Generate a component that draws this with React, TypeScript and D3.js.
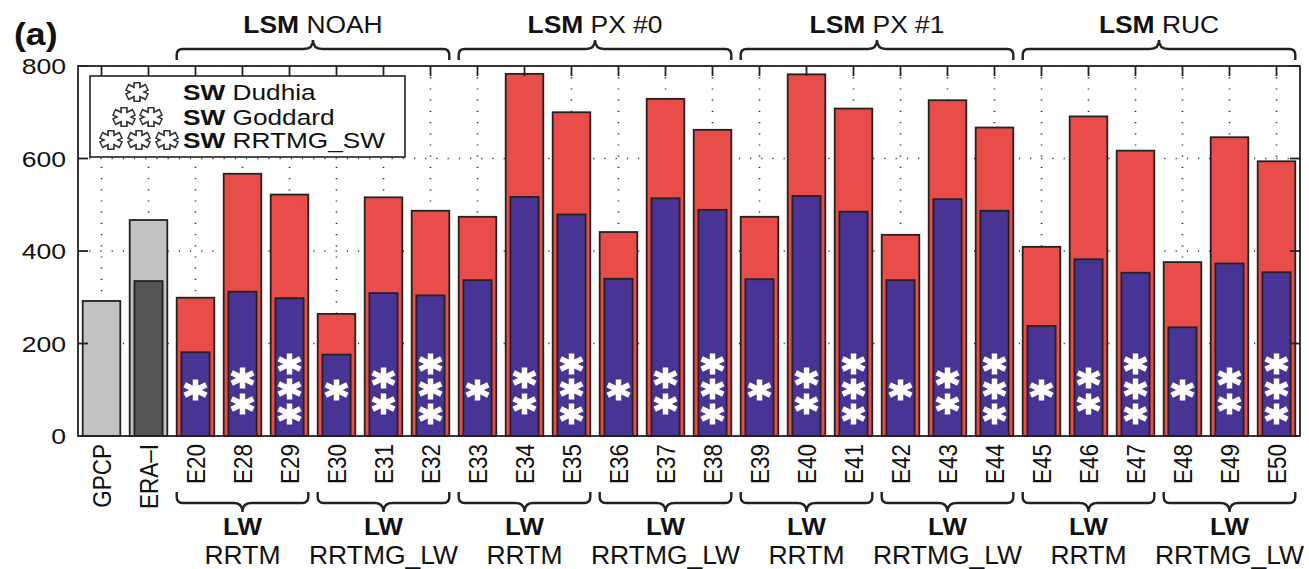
import React from 'react';
import * as d3 from 'd3';

const categories = ['GPCP', 'ERA–I', 'E20', 'E28', 'E29', 'E30', 'E31', 'E32', 'E33', 'E34', 'E35', 'E36', 'E37', 'E38',
  'E39', 'E40', 'E41', 'E42', 'E43', 'E44', 'E45', 'E46', 'E47', 'E48', 'E49', 'E50'];
// outer bar (total) and inner bar values
const outerValues = [292, 467, 299, 567, 522, 264, 516, 487, 474, 783, 700, 441, 729, 662, 474, 782, 708, 435, 726, 667, 409, 691, 617, 376, 646, 594];
const innerValues = [null, 335, 181, 312, 298, 176, 309, 304, 337, 517, 479, 340, 514, 489, 339, 519, 485, 337, 512, 487, 238, 382, 353, 235, 373, 354];
const swStars = [0, 0, 1, 2, 3, 1, 2, 3, 1, 2, 3, 1, 2, 3, 1, 2, 3, 1, 2, 3, 1, 2, 3, 1, 2, 3];
const lsmGroups = ['NOAH', 'PX #0', 'PX #1', 'RUC'];
const lwGroups = ['RRTM', 'RRTMG_LW', 'RRTM', 'RRTMG_LW', 'RRTM', 'RRTMG_LW', 'RRTM', 'RRTMG_LW'];
const swLegend = ['Dudhia', 'Goddard', 'RRTMG_SW'];
const yTicks = [0, 200, 400, 600, 800];

const W = 1309, H = 569;
const left = 78, right = 1300, top = 66, bottom = 436;
const RED = '#e84d4a', BLUE = '#493395', LIGHT = '#c2c2c2', DARK = '#555555', INK = '#222';
const FONT = '"Liberation Sans", Arial, Helvetica, sans-serif';

const x = d3.scaleBand<string>().domain(categories).range([left, right]).paddingInner(0.2).paddingOuter(0.1);
const y = d3.scaleLinear().domain([0, 800]).range([bottom, top]);

const starPath = (cx: number, cy: number, rx: number, ry: number) =>
  [90, 30, 150].map(a => {
    const dx = rx * Math.cos((a * Math.PI) / 180), dy = ry * Math.sin((a * Math.PI) / 180);
    return `M${cx - dx},${cy - dy}L${cx + dx},${cy + dy}`;
  }).join('');

// curly brace; dir = 1 tips below the line, -1 tips above
const bracePath = (x0: number, x1: number, yLine: number, dir: number) => {
  const t = 11 * dir, p = 9 * dir, r = 6, m = (x0 + x1) / 2;
  return `M${x0},${yLine + t} L${x0},${yLine + r * dir} Q${x0},${yLine} ${x0 + r},${yLine}` +
    ` L${m - 9},${yLine} Q${m},${yLine} ${m},${yLine - p}` +
    ` Q${m},${yLine} ${m + 9},${yLine} L${x1 - r},${yLine} Q${x1},${yLine} ${x1},${yLine + r * dir} L${x1},${yLine + t}`;
};

// horizontally stretched text (the reference is wider than it is tall)
const SText = ({ x: tx, y: ty, sx, children, ...rest }: any) => (
  <text transform={`translate(${tx},${ty}) scale(${sx},1)`} {...rest}>{children}</text>
);

export default function App() {
  const bw = x.bandwidth();
  const iw = bw * 0.75;
  const groupSpan = (start: number, n: number) => {
    const a = x(categories[start])!;
    const b = x(categories[start + n - 1])! + bw;
    return [a, b];
  };

  return (
    <svg width={W} height={H} style={{ display: 'block', position: 'absolute', left: 0, top: 0 }} fontFamily={FONT}>
      <rect width={W} height={H} fill="#fff" />
      {/* grid */}
      <g stroke="#333" strokeWidth={1.6} strokeDasharray="1.2 10">
        {[200, 400, 600, 800].map(v => (
          <line key={v} x1={left} x2={right} y1={y(v)} y2={y(v)} />
        ))}
        {categories.map(c => (
          <line key={c} x1={x(c)! + bw / 2} x2={x(c)! + bw / 2} y1={top} y2={bottom} />
        ))}
      </g>
      {/* bars */}
      {categories.map((c, i) => {
        const cx = x(c)! + bw / 2;
        const obs = i < 2;
        const inner = innerValues[i];
        const stars = swStars[i];
        const starYs = stars === 1 ? [390] : stars === 2 ? [378, 404] : stars === 3 ? [364, 389, 414] : [];
        return (
          <g key={c}>
            <rect x={x(c)} y={y(outerValues[i])} width={bw} height={bottom - y(outerValues[i])}
              fill={obs ? LIGHT : RED} stroke={INK} strokeWidth={1.8} />
            {inner != null && (
              <rect x={cx - iw / 2} y={y(inner)} width={iw} height={bottom - y(inner)}
                fill={obs ? DARK : BLUE} stroke={INK} strokeWidth={1.8} />
            )}
            {starYs.map(sy => (
              <path key={sy} d={starPath(cx, sy, 12.5, 10.5)} stroke="#fff" strokeWidth={5.5} />
            ))}
          </g>
        );
      })}
      {/* axes box */}
      <rect x={left} y={top} width={right - left} height={bottom - top} fill="none" stroke={INK} strokeWidth={1.8} />
      <g stroke={INK} strokeWidth={1.8}>
        {yTicks.map(v => (
          <g key={v}>
            <line x1={left} x2={left + 10} y1={y(v)} y2={y(v)} />
            <line x1={right} x2={right - 10} y1={y(v)} y2={y(v)} />
          </g>
        ))}
        {categories.map(c => (
          <line key={c} x1={x(c)! + bw / 2} x2={x(c)! + bw / 2} y1={top} y2={top + 10} />
        ))}
      </g>
      {/* y tick labels */}
      {yTicks.map(v => (
        <SText key={v} x={66} y={y(v)} sx={1.18} dy="0.36em" textAnchor="end" fontSize={22.5} fill="#111">{v}</SText>
      ))}
      {/* x labels */}
      {categories.map(c => {
        const cx = x(c)! + bw / 2;
        return (
          <text key={c} transform={`translate(${cx},444) scale(1.15,1) rotate(-90)`} dy="0.36em" textAnchor="end"
            fontSize={22.5} fill="#111">{c}</text>
        );
      })}
      {/* legend */}
      <rect x={90} y={76} width={315} height={81} fill="#fff" stroke={INK} strokeWidth={1.6} />
      {swLegend.map((name, i) => {
        const ly = [92, 117, 140][i];
        const xs = i === 0 ? [137] : i === 1 ? [124, 151] : [111, 139, 167];
        return (
          <g key={name}>
            {xs.map(sx => (
              <g key={sx}>
                <path d={starPath(sx, ly, 12, 10)} stroke="#333" strokeWidth={7.5} />
                <path d={starPath(sx, ly, 10.5, 8.5)} stroke="#fff" strokeWidth={4.2} />
              </g>
            ))}
            <SText x={183} y={ly} sx={1.22} dy="0.36em" fontSize={21.5} fill="#111">
              <tspan fontWeight="bold">SW</tspan> {name}
            </SText>
          </g>
        );
      })}
      {/* top braces (LSM) */}
      {lsmGroups.map((g, i) => {
        const [a, b] = groupSpan(2 + i * 6, 6);
        return (
          <g key={g}>
            <path d={bracePath(a, b, 49, 1)} fill="none" stroke={INK} strokeWidth={2.4} />
            <SText x={(a + b) / 2} y={33} sx={1.1} textAnchor="middle" fontSize={24} fill="#111">
              <tspan fontWeight="bold">LSM</tspan> {g}
            </SText>
          </g>
        );
      })}
      {/* bottom braces (LW) */}
      {lwGroups.map((g, i) => {
        const [a, b] = groupSpan(2 + i * 3, 3);
        return (
          <g key={i}>
            <path d={bracePath(a, b, 503, -1)} fill="none" stroke={INK} strokeWidth={2.4} />
            <SText x={(a + b) / 2} y={535} sx={1.08} textAnchor="middle" fontSize={24} fontWeight="bold" fill="#111">LW</SText>
            <SText x={(a + b) / 2} y={564} sx={1.06} textAnchor="middle" fontSize={25} fill="#111">{g}</SText>
          </g>
        );
      })}
      <SText x={14} y={45} sx={1.15} fontSize={31} fontWeight="bold" fill="#111">(a)</SText>
    </svg>
  );
}
